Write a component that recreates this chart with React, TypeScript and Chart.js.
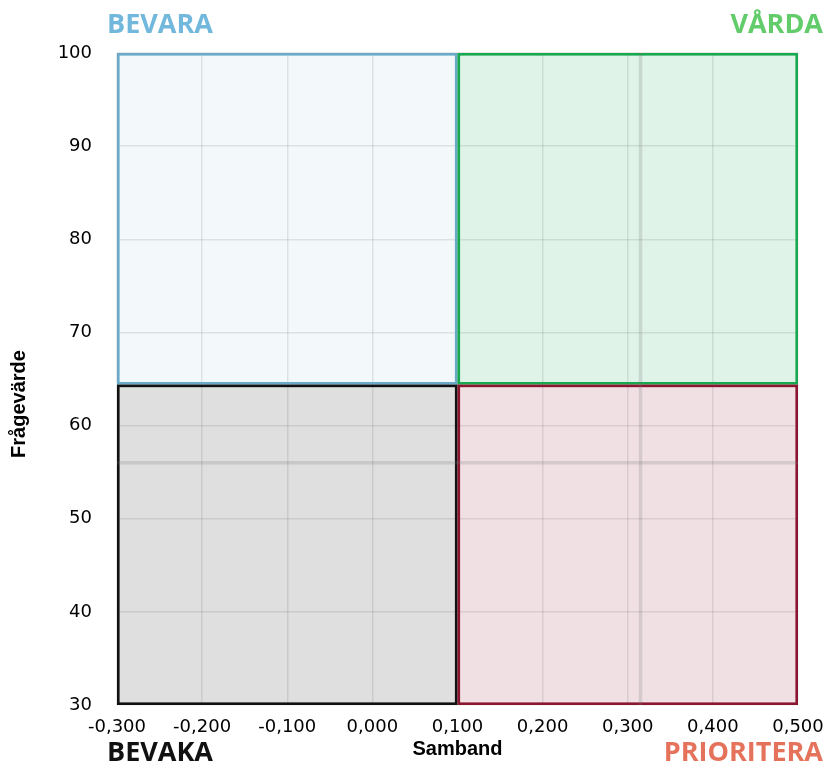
import React, { useEffect, useRef } from "react";
import { Chart, registerables } from "chart.js";

Chart.register(...registerables);

// Axis ranges and ticks
const xRange = [-0.3, 0.5];
const yRange = [30, 100];
const xStep = 0.1;
const yStep = 10;

// Quadrant split values
const xSplit = 0.1;
const ySplit = 64.4;

// Reference (average) lines
const refX = 0.315;
const refY = 56;

// Quadrants: name, side (x: left/right, y: top/bottom)
const quadrantNames = ["BEVARA", "VÅRDA", "BEVAKA", "PRIORITERA"];
const quadrantX = ["left", "right", "left", "right"];
const quadrantY = ["top", "top", "bottom", "bottom"];
const quadrantFills = ["#f3f8fb", "#dff3e8", "#dfdfdf", "#f0e0e3"];
const quadrantBorders = ["#6aaac9", "#18a84f", "#111111", "#8a1530"];
const quadrantLabelColors = ["#72b8dc", "#62cc6b", "#111111", "#e5735b"];

const xTitle = "Samband";
const yTitle = "Frågevärde";

function fmtX(v: number): string {
  const n = Math.abs(v) < 1e-9 ? 0 : v;
  return n.toFixed(3).replace(".", ",");
}

function quadBox(i: number, xs: any, ys: any) {
  const x0 = quadrantX[i] === "left" ? xRange[0] : xSplit;
  const x1 = quadrantX[i] === "left" ? xSplit : xRange[1];
  const y0 = quadrantY[i] === "top" ? yRange[1] : ySplit;
  const y1 = quadrantY[i] === "top" ? ySplit : yRange[0];
  return {
    l: xs.getPixelForValue(x0),
    r: xs.getPixelForValue(x1),
    t: ys.getPixelForValue(y0),
    b: ys.getPixelForValue(y1),
  };
}

const quadrantPlugin = {
  id: "quadrants",
  beforeDraw(chart: any) {
    const { ctx, scales } = chart;
    ctx.save();
    for (let i = 0; i < quadrantNames.length; i++) {
      const { l, r, t, b } = quadBox(i, scales.x, scales.y);
      ctx.fillStyle = quadrantFills[i];
      ctx.fillRect(l, t, r - l, b - t);
    }
    ctx.restore();
  },
  beforeDatasetsDraw(chart: any) {
    const { ctx, scales } = chart;
    ctx.save();
    const lw = 2.6;
    for (let i = 0; i < quadrantNames.length; i++) {
      const { l, r, t, b } = quadBox(i, scales.x, scales.y);
      ctx.strokeStyle = quadrantBorders[i];
      ctx.lineWidth = lw;
      ctx.strokeRect(l + lw / 2, t + lw / 2, r - l - lw, b - t - lw);
    }
    ctx.restore();
  },
  afterDraw(chart: any) {
    const { ctx, chartArea } = chart;
    ctx.save();
    for (let i = 0; i < quadrantNames.length; i++) {
      const isTop = quadrantY[i] === "top";
      const isLeft = quadrantX[i] === "left";
      ctx.font = `700 27px "Open Sans", "DejaVu Sans", sans-serif`;
      ctx.fillStyle = quadrantLabelColors[i];
      ctx.textBaseline = "alphabetic";
      ctx.textAlign = isLeft ? "left" : "right";
      const x = isLeft ? chartArea.left - 10 : chartArea.right + 25;
      const y = isTop ? chartArea.top - 20 : chartArea.bottom + 56;
      ctx.fillText(quadrantNames[i], x, y);
    }
    // y-axis title
    ctx.translate(19, 404);
    ctx.rotate(-Math.PI / 2);
    ctx.font = `bold 20px "Liberation Sans", Arial, sans-serif`;
    ctx.fillStyle = "#000";
    ctx.textAlign = "center";
    ctx.textBaseline = "middle";
    ctx.fillText(yTitle, 0, 0);
    ctx.restore();
  },
};

export default function App() {
  const ref = useRef<HTMLCanvasElement | null>(null);
  useEffect(() => {
    if (!ref.current) return;
    const chart = new Chart(ref.current, {
      type: "scatter",
      data: {
        datasets: [
          {
            data: [
              { x: refX, y: yRange[0] },
              { x: refX, y: yRange[1] },
            ],
            showLine: true,
            borderColor: "rgba(120,120,120,0.22)",
            borderWidth: 3.5,
            pointRadius: 0,
          },
          {
            data: [
              { x: xRange[0], y: refY },
              { x: xRange[1], y: refY },
            ],
            showLine: true,
            borderColor: "rgba(120,120,120,0.22)",
            borderWidth: 3.5,
            pointRadius: 0,
          },
        ],
      },
      options: {
        animation: false,
        responsive: false,
        devicePixelRatio: 1,
        layout: { padding: { left: 0, top: 53, right: 30, bottom: 0 } },
        plugins: { legend: { display: false }, tooltip: { enabled: false } },
        scales: {
          x: {
            type: "linear",
            min: xRange[0],
            max: xRange[1],
            border: { display: false },
            grid: { color: "rgba(0,0,0,0.09)", lineWidth: 1.5, drawTicks: false },
            ticks: {
              stepSize: xStep,
              padding: 12,
              color: "#000",
              font: { family: '"DejaVu Sans", sans-serif', size: 18 },
              callback: (v: any) => fmtX(Number(v)),
              maxRotation: 0,
              autoSkip: false,
            },
            title: {
              display: true,
              text: xTitle,
              color: "#000",
              font: { family: '"Liberation Sans", Arial, sans-serif', size: 20, weight: "bold" },
              padding: { top: 0, bottom: 2 },
            },
            afterFit: (s: any) => {
              s.height = 58;
              s.paddingLeft = 0;
              s.paddingRight = 0;
            },
          },
          y: {
            type: "linear",
            min: yRange[0],
            max: yRange[1],
            border: { display: false },
            grid: { color: "rgba(0,0,0,0.09)", lineWidth: 1.5, drawTicks: false },
            ticks: {
              stepSize: yStep,
              padding: 25,
              color: "#000",
              font: { family: '"DejaVu Sans", sans-serif', size: 18 },
            },
            title: { display: false },
            afterFit: (s: any) => {
              s.width = 117;
              s.paddingTop = 0;
              s.paddingBottom = 0;
            },
          },
        },
      },
      plugins: [quadrantPlugin],
    });
    return () => chart.destroy();
  }, []);
  return (
    <div style={{ position: "absolute", left: 0, top: 0, width: 828, height: 763, background: "#fff" }}>
      <canvas ref={ref} width={828} height={763} />
    </div>
  );
}
